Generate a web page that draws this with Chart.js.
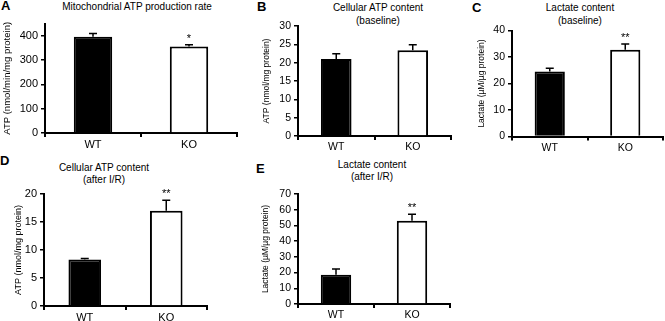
<!DOCTYPE html>
<html>
<head>
<meta charset="utf-8">
<script src="https://cdn.jsdelivr.net/npm/chart.js@4.4.0/dist/chart.umd.min.js"></script>
<style>
  body { margin: 0; background: #fff; }
  #fig { position: relative; width: 665px; height: 321px; overflow: hidden;
         font-family: "Liberation Sans", Arial, sans-serif; color: #000; }
  #fig canvas { position: absolute; }
  .ttl { position: absolute; width: 200px; text-align: center; font-size: 10px; line-height: 12.5px; white-space: nowrap; }
  .let { position: absolute; font-weight: bold; font-size: 13px; line-height: 14px; }
</style>
</head>
<body>
<div id="fig">
  <div class="let" style="left:1px;top:-1.5px">A</div>
  <div class="let" style="left:257px;top:0px">B</div>
  <div class="let" style="left:472px;top:0.5px">C</div>
  <div class="let" style="left:0px;top:154px">D</div>
  <div class="let" style="left:256px;top:162px">E</div>

  <div class="ttl" style="left:37px;top:0.75px">Mitochondrial ATP production rate</div>
  <div class="ttl" style="left:278px;top:2.25px">Cellular ATP content<br>(baseline)</div>
  <div class="ttl" style="left:480px;top:2.25px">Lactate content<br>(baseline)</div>
  <div class="ttl" style="left:4px;top:161.75px">Cellular ATP content<br>(after I/R)</div>
  <div class="ttl" style="left:272px;top:158.75px">Lactate content<br>(after I/R)</div>

  <canvas id="chartA"></canvas>
  <canvas id="chartB"></canvas>
  <canvas id="chartC"></canvas>
  <canvas id="chartD"></canvas>
  <canvas id="chartE"></canvas>
</div>

<script>
// Data
const categories = ['WT', 'KO'];

// A - mitochondrial ATP production rate
const atpRateMean = [396, 356];
const atpRateSem = [13, 7];
const atpRateSig = ['', '*'];

// B - cellular ATP content (baseline)
const atpBaseMean = [21.0, 23.4];
const atpBaseSem = [1.4, 1.5];
const atpBaseSig = ['', ''];

// C - lactate content (baseline)
const lacBaseMean = [24.5, 32.7];
const lacBaseSem = [1.3, 2.2];
const lacBaseSig = ['', '**'];

// D - cellular ATP content (after I/R)
const atpIRMean = [8.3, 17.0];
const atpIRSem = [0.2, 1.9];
const atpIRSig = ['', '**'];

// E - lactate content (after I/R)
const lacIRMean = [18.6, 52.9];
const lacIRSem = [3.6, 4.2];
const lacIRSig = ['', '**'];

Chart.defaults.font.family = '"Liberation Sans", Arial, sans-serif';
Chart.defaults.color = '#000';

// draws the upward error bar and the significance stars
const errorBars = {
  id: 'errorBars',
  afterDatasetsDraw(chart, args, opts) {
    const ctx = chart.ctx;
    const y = chart.scales.y;
    const meta = chart.getDatasetMeta(0);
    ctx.save();
    ctx.strokeStyle = '#000';
    ctx.fillStyle = '#000';
    ctx.lineWidth = 1.5;
    meta.data.forEach(function (bar, i) {
      const v = opts.mean[i];
      const y0 = y.getPixelForValue(v);
      const y1 = y.getPixelForValue(v + opts.sem[i]);
      ctx.beginPath();
      ctx.moveTo(bar.x, y0);
      ctx.lineTo(bar.x, y1);
      ctx.moveTo(bar.x - 4, y1);
      ctx.lineTo(bar.x + 4, y1);
      ctx.stroke();
      if (opts.sig[i]) {
        ctx.font = '11px "Liberation Sans", Arial, sans-serif';
        ctx.textAlign = 'center';
        ctx.textBaseline = 'alphabetic';
        ctx.fillText(opts.sig[i], bar.x, y1 - 3);
      }
    });
    ctx.restore();
  }
};

// box: canvas rect + wanted plot area (page pixels)
function createPanel(id, box, mean, sem, sig, yMax, yStep, yTitle, fs) {
  const canvas = document.getElementById(id);
  canvas.width = box.cw;
  canvas.height = box.ch;
  canvas.style.left = box.cl + 'px';
  canvas.style.top = box.ct + 'px';

  const xH = Math.min(22, box.ct + box.ch - box.B);
  const yW = box.L - box.cl;
  const lh = fs.ytitle * 1.2;

  return new Chart(canvas.getContext('2d'), {
    type: 'bar',
    data: {
      labels: categories,
      datasets: [
        {
          data: mean,
          backgroundColor: ['#000', '#fff'],
          borderColor: '#000',
          borderWidth: 2,
          barPercentage: 0.4,
          categoryPercentage: 1,
        },
      ],
    },
    options: {
      responsive: false,
      animation: false,
      layout: {
        padding: {
          left: 0,
          right: box.cl + box.cw - box.R,
          top: box.T - box.ct,
          bottom: box.ct + box.ch - box.B - xH,
        },
      },
      plugins: {
        legend: { display: false },
        tooltip: { enabled: false },
        errorBars: { mean: mean, sem: sem, sig: sig },
      },
      scales: {
        x: {
          grid: { offset: true, drawOnChartArea: false, color: '#000', lineWidth: 2, tickLength: 4 },
          border: { color: '#000', width: 2 },
          ticks: { color: '#000', font: { size: fs.tick }, padding: 1 },
          afterFit: function (s) { s.height = xH; },
        },
        y: {
          min: 0,
          max: yMax,
          ticks: { stepSize: yStep, includeBounds: false, color: '#000', font: { size: fs.tick }, padding: 3 },
          grid: { drawOnChartArea: false, color: '#000', lineWidth: 1.5, tickLength: 4 },
          border: { color: '#000', width: 2 },
          title: {
            display: true,
            text: yTitle,
            color: '#000',
            font: { size: fs.ytitle },
            padding: { top: box.yTitleX - box.cl - lh / 2, bottom: 0 },
          },
          afterFit: function (s) { s.width = yW; },
        },
      },
    },
    plugins: [errorBars],
  });
}

createPanel('chartA', { cl: 0, ct: 14, cw: 240, ch: 146, L: 45, R: 237, T: 23, B: 133, yTitleX: 7 },
  atpRateMean, atpRateSem, atpRateSig, 450, 100, 'ATP (nmol/min/mg protein)', { tick: 11, ytitle: 9.5 });

createPanel('chartB', { cl: 255, ct: 14, cw: 200, ch: 146, L: 298, R: 451, T: 26, B: 136, yTitleX: 267 },
  atpBaseMean, atpBaseSem, atpBaseSig, 30, 5, 'ATP (nmol/mg protein)', { tick: 10.5, ytitle: 8.5 });

createPanel('chartC', { cl: 470, ct: 14, cw: 195, ch: 146, L: 512, R: 663, T: 30.5, B: 136.5, yTitleX: 482 },
  lacBaseMean, lacBaseSem, lacBaseSig, 40, 10, 'Lactate (µM/µg protein)', { tick: 10.5, ytitle: 8.5 });

createPanel('chartD', { cl: 0, ct: 184, cw: 215, ch: 137, L: 44, R: 207, T: 194, B: 306, yTitleX: 19 },
  atpIRMean, atpIRSem, atpIRSig, 20, 5, 'ATP (nmol/mg protein)', { tick: 11, ytitle: 9 });

createPanel('chartE', { cl: 255, ct: 184, cw: 200, ch: 137, L: 298, R: 450, T: 194, B: 304, yTitleX: 266 },
  lacIRMean, lacIRSem, lacIRSig, 70, 10, 'Lactate (µM/µg protein)', { tick: 10.5, ytitle: 8.5 });
</script>
</body>
</html>
